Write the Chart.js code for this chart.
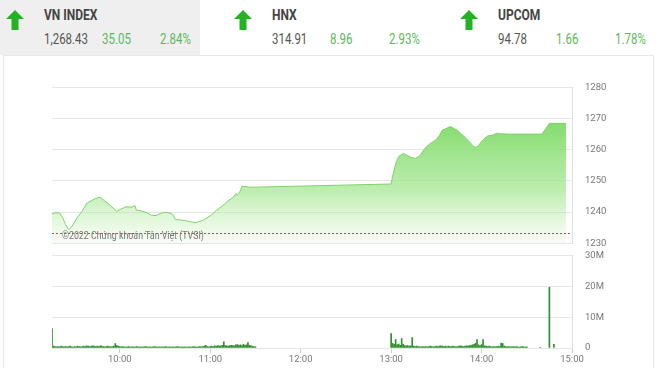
<!DOCTYPE html>
<html>
<head>
<meta charset="utf-8">
<script src="https://cdn.jsdelivr.net/npm/chart.js@4.4.0/dist/chart.umd.min.js"></script>
<style>
  body { margin: 0; width: 660px; height: 368px; overflow: hidden; background: #fff; font-family: Roboto, sans-serif; position: relative; }
  .tile { position: absolute; top: 0; height: 55px; }
  .tile svg { position: absolute; left: 5px; top: 9px; }
  .name { position: absolute; top: 6px; font-weight: bold; font-size: 15px; color: #444; transform: scaleX(.8); transform-origin: 0 0; white-space: nowrap; }
  .num { position: absolute; top: 31px; font-size: 14px; color: #555; transform: scaleX(.82); transform-origin: 0 0; white-space: nowrap; }
  .up { color: #5cb85c; }
  .card { position: absolute; left: 3px; top: 55px; width: 651px; height: 330px; border: 1px solid #e8e8e8; box-sizing: border-box; }
  .wm { position: absolute; left: 62px; top: 229px; font-size: 10.5px; color: #777; transform: scaleX(.84); transform-origin: 0 0; white-space: nowrap; }
  #price { position: absolute; left: 0; top: 75px; }
  #volume { position: absolute; left: 0; top: 245px; }
</style>
</head>
<body>
<div class="card"></div>

<div class="tile" style="left:0;width:200px;background:#efeff0">
  <svg width="20" height="22" viewBox="0 0 20 22"><path d="M10 1 L19 10 L13.5 10 L13.5 21 L6.5 21 L6.5 10 L1 10 Z" fill="#21b321"/></svg>
  <div class="name" style="left:44px">VN INDEX</div>
  <div class="num" style="left:44px">1,268.43</div>
  <div class="num up" style="left:102px">35.05</div>
  <div class="num up" style="left:160px">2.84%</div>
</div>
<div class="tile" style="left:228px;width:200px">
  <svg width="20" height="22" viewBox="0 0 20 22"><path d="M10 1 L19 10 L13.5 10 L13.5 21 L6.5 21 L6.5 10 L1 10 Z" fill="#21b321"/></svg>
  <div class="name" style="left:44px">HNX</div>
  <div class="num" style="left:44px">314.91</div>
  <div class="num up" style="left:102px">8.96</div>
  <div class="num up" style="left:161px">2.93%</div>
</div>
<div class="tile" style="left:454px;width:200px">
  <svg width="20" height="22" viewBox="0 0 20 22"><path d="M10 1 L19 10 L13.5 10 L13.5 21 L6.5 21 L6.5 10 L1 10 Z" fill="#21b321"/></svg>
  <div class="name" style="left:44px">UPCOM</div>
  <div class="num" style="left:44px">94.78</div>
  <div class="num up" style="left:102px">1.66</div>
  <div class="num up" style="left:161px">1.78%</div>
</div>

<canvas id="price" width="660" height="180"></canvas>
<canvas id="volume" width="660" height="123"></canvas>
<div class="wm">©2022 Chứng khoán Tân Việt (TVSI)</div>

<script>
// VN-Index intraday
const priceTimes = [
  '9:15', '9:17', '9:20', '9:22', '9:24', '9:26', '9:28', '9:30', '9:32', '9:35',
  '9:38', '9:41', '9:44', '9:47', '9:50', '9:54', '9:58', '10:00', '10:04', '10:08',
  '10:10', '10:11', '10:14', '10:18', '10:21', '10:24', '10:27', '10:30', '10:33', '10:35',
  '10:37', '10:40', '10:45', '10:50', '10:53', '10:56', '11:00', '11:04', '11:08', '11:12',
  '11:15', '11:17', '11:18', '11:20', '11:21', '11:23', '11:26', '11:30',
  '13:00', '13:01', '13:03', '13:05', '13:08', '13:10', '13:13', '13:16', '13:19', '13:21',
  '13:23', '13:26', '13:28', '13:30', '13:32', '13:34', '13:37', '13:39', '13:41', '13:44',
  '13:46', '13:49', '13:52', '13:55', '13:57', '13:59', '14:01', '14:04', '14:07', '14:10',
  '14:13', '14:17', '14:22', '14:28', '14:34', '14:40', '14:45', '14:56'
];
const priceValues = [
  1239.4, 1239.8, 1239.7, 1238.3, 1236.0, 1234.4, 1235.2, 1236.8, 1238.5, 1240.3,
  1242.8, 1243.6, 1244.4, 1244.8, 1243.6, 1242.0, 1240.2, 1240.8, 1241.7, 1241.6,
  1242.1, 1240.6, 1240.4, 1239.8, 1239.0, 1238.9, 1239.6, 1239.9, 1239.7, 1239.3,
  1237.6, 1237.5, 1237.1, 1236.6, 1237.0, 1237.6, 1238.8, 1240.5, 1242.0, 1243.7,
  1244.6, 1245.9, 1245.5, 1246.8, 1248.3, 1248.2, 1248.0, 1248.0,
  1249.0, 1251.5, 1255.5, 1257.8, 1258.8, 1258.4, 1257.6, 1257.2, 1258.0, 1259.5,
  1260.8, 1262.0, 1262.6, 1263.3, 1264.6, 1266.3, 1266.9, 1267.4, 1267.0, 1266.2,
  1265.3, 1264.0, 1262.5, 1260.9, 1260.8, 1262.0, 1263.2, 1264.4, 1264.6, 1265.3,
  1265.1, 1265.0, 1265.0, 1265.0, 1265.0, 1265.0, 1268.43, 1268.43
];
const refValue = 1233.38; // previous close

const priceTicks = [1230, 1240, 1250, 1260, 1270, 1280];

// volume per minute, millions of shares
const morningStart = '9:15';
const morningVolume = [
  6.3, 0.6, 0.5, 0.4, 0.5, 0.4, 0.6, 0.5, 0.4, 0.5,
  0.4, 0.5, 0.6, 0.4, 0.3, 0.5, 0.4, 0.6, 0.5, 0.4,
  0.5, 0.6, 0.5, 0.7, 0.6, 0.5, 0.6, 0.7, 0.6, 0.5,
  0.6, 0.5, 0.7, 0.6, 0.5, 0.4, 0.5, 0.6, 0.5, 0.4,
  0.5, 0.6, 1.4, 0.8, 0.6, 0.5, 0.4, 0.5, 0.4, 0.3,
  0.4, 0.5, 0.3, 0.4, 0.4, 0.3, 0.5, 0.4, 0.3, 0.4,
  0.3, 0.4, 0.5, 0.4, 0.3, 0.4, 0.3, 0.4, 0.5, 0.4,
  0.3, 0.4, 0.3, 0.4, 0.3, 0.5, 0.4, 0.3, 0.4, 0.3,
  0.4, 0.3, 0.4, 0.5, 0.4, 0.3, 0.4, 0.3, 0.4, 0.3,
  0.3, 0.4, 0.3, 0.4, 0.5, 0.4, 0.3, 0.4, 0.5, 0.4,
  0.5, 0.6, 0.9, 0.5, 0.4, 0.5, 0.6, 0.5, 0.7, 0.6,
  0.8, 0.7, 0.6, 0.9, 2.0, 0.8, 0.7, 0.6, 0.8, 0.9,
  0.8, 0.7, 1.0, 1.1, 0.9, 1.0, 0.8, 1.2, 0.9, 1.0,
  1.8, 0.9, 0.7, 0.6, 0.5, 0.4
];
const afternoonStart = '13:00';
const afternoonVolume = [
  4.7, 1.5, 1.2, 2.7, 1.0, 1.3, 0.9, 3.1, 1.2, 0.8,
  0.7, 0.8, 0.6, 0.7, 3.4, 0.6, 0.5, 0.6, 0.5, 0.4,
  0.4, 0.5, 0.4, 0.5, 0.4, 0.5, 0.6, 0.5, 0.4, 0.5,
  0.6, 0.5, 0.6, 0.7, 0.6, 0.5, 0.6, 0.5, 0.6, 0.5,
  0.5, 0.6, 0.5, 0.4, 0.5, 0.6, 0.7, 0.6, 0.5, 0.6,
  0.7, 0.6, 0.8, 0.9, 1.0, 1.2, 1.5, 2.7, 1.0, 0.8,
  1.1, 2.7, 0.7, 0.6, 0.5, 0.6, 0.5, 0.4, 0.5, 0.4,
  0.5, 0.6, 0.5, 1.6, 1.4, 0.6, 0.5, 0.4, 0.5, 0.4,
  0.4, 0.5, 0.4, 0.5, 0.4, 0.3, 0.4, 0.5, 0.4, 0.3,
  0.4
];
const closingTimes = ['14:39', '14:45', '14:48'];
const closingVolume = [0.2, 19.7, 1.2];

const volumeTicks = [0, 10, 20, 30];
const volumeLabels = ['0', '10M', '20M', '30M'];

const timeTicks = ['10:00', '11:00', '12:00', '13:00', '14:00', '15:00'];
const axisStart = '9:15';
const axisEnd = '15:00';

function toMin(t) {
  const p = t.split(':');
  return +p[0] * 60 + +p[1];
}

Chart.defaults.font.family = 'Roboto';
Chart.defaults.font.size = 9.5;
Chart.defaults.color = '#777';
Chart.defaults.animation = false;

const xAxis = (show) => ({
  type: 'linear',
  display: show,
  offset: false,
  min: toMin(axisStart),
  max: toMin(axisEnd),
  afterBuildTicks: s => { s.ticks = timeTicks.map(t => ({ value: toMin(t) })); },
  afterFit: s => { if (show) s.height = 20; },
  grid: { drawOnChartArea: false, offset: false, tickLength: 5, color: '#ccc' },
  border: { display: false },
  ticks: { maxRotation: 0, autoSkip: false, padding: 1, callback: (v, i) => timeTicks[i] }
});

// right-hand value axis; the gap to the labels is a transparent tick mark
const valueAxis = (min, max, values, labels) => ({
  position: 'right',
  min: min,
  max: max,
  afterBuildTicks: s => { s.ticks = values.map(v => ({ value: v })); },
  afterFit: s => { s.width = 88; },
  grid: { color: '#e6e6e6', drawTicks: true, tickLength: 13, tickColor: 'rgba(0,0,0,0)' },
  border: { display: true, color: '#e0e0e0' },
  ticks: { padding: 0, callback: (v, i) => labels[i] }
});

const refLine = {
  id: 'refLine',
  afterDatasetsDraw(chart) {
    const a = chart.chartArea;
    const y = Math.round(chart.scales.y.getPixelForValue(refValue)) + 0.5;
    const c = chart.ctx;
    c.save();
    c.strokeStyle = '#b4504a';
    c.lineWidth = 1;
    c.setLineDash([2, 2]);
    c.beginPath();
    c.moveTo(a.left, y);
    c.lineTo(a.right, y);
    c.stroke();
    c.restore();
  }
};

new Chart(document.getElementById('price'), {
  type: 'line',
  data: {
    datasets: [{
      data: priceTimes.map((t, i) => ({ x: toMin(t), y: priceValues[i] })),
      borderColor: '#80d26a',
      borderWidth: 1,
      pointRadius: 0,
      tension: 0,
      fill: 'start',
      backgroundColor: ctx => {
        const ch = ctx.chart;
        const a = ch.chartArea;
        if (!a) return 'rgba(130,220,110,0.5)';
        const top = ch.scales.y.getPixelForValue(1268);
        const g = ch.ctx.createLinearGradient(0, top, 0, a.bottom);
        g.addColorStop(0, 'rgba(128,218,104,0.95)');
        g.addColorStop(0.55, 'rgba(160,230,140,0.7)');
        g.addColorStop(1, 'rgba(200,240,190,0.15)');
        return g;
      }
    }]
  },
  options: {
    responsive: false,
    events: [],
    layout: { padding: { top: 12.3, bottom: 11.7, left: 52, right: 0 } },
    plugins: { legend: { display: false }, tooltip: { enabled: false } },
    scales: {
      x: xAxis(false),
      y: valueAxis(1230, 1280, priceTicks, priceTicks.map(String))
    }
  },
  plugins: [refLine]
});

const volumePoints = []
  .concat(morningVolume.map((v, i) => ({ x: toMin(morningStart) + i, y: v })))
  .concat(afternoonVolume.map((v, i) => ({ x: toMin(afternoonStart) + i, y: v })))
  .concat(closingVolume.map((v, i) => ({ x: toMin(closingTimes[i]), y: v })));

new Chart(document.getElementById('volume'), {
  type: 'bar',
  data: {
    datasets: [{
      data: volumePoints,
      backgroundColor: '#2f8f2f',
      barThickness: 1
    }]
  },
  options: {
    responsive: false,
    events: [],
    layout: { padding: { top: 10.7, bottom: 0, left: 52, right: 0 } },
    plugins: { legend: { display: false }, tooltip: { enabled: false } },
    scales: {
      x: xAxis(true),
      y: valueAxis(0, 30, volumeTicks, volumeLabels)
    }
  }
});
</script>
</body>
</html>
